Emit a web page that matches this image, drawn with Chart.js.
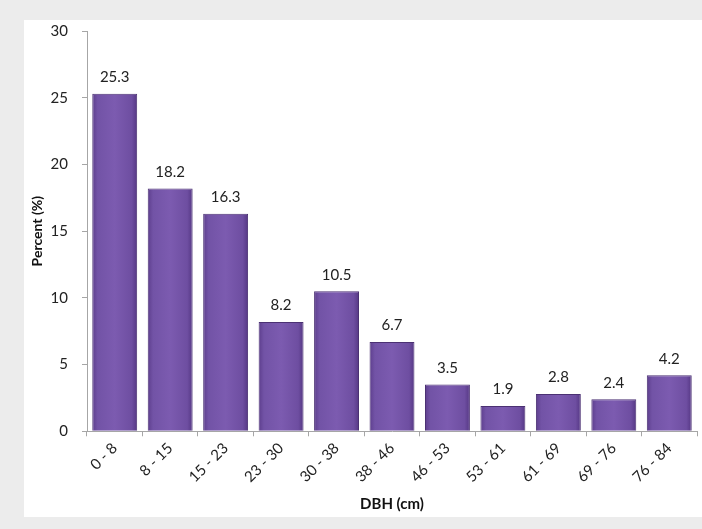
<!DOCTYPE html>
<html>
<head>
<meta charset="utf-8">
<script src="https://cdn.jsdelivr.net/npm/chart.js@4"></script>
<style>
  html, body { margin: 0; padding: 0; background: #ececec; }
  #wrap { width: 702px; height: 529px; }
</style>
</head>
<body>
<div id="wrap"><canvas id="dbh-chart"></canvas></div>
<script>
const dbhClasses = ["0 - 8", "8 - 15", "15 - 23", "23 - 30", "30 - 38", "38 - 46", "46 - 53", "53 - 61", "61 - 69", "69 - 76", "76 - 84"];
const percentValues = [25.3, 18.2, 16.3, 8.2, 10.5, 6.7, 3.5, 1.9, 2.8, 2.4, 4.2];
const yTicks = [0, 5, 10, 15, 20, 25, 30];

const FONT = "Lato, 'Open Sans', sans-serif";
const BAR_PCT = 0.81;

// gray frame with white panel behind the chart
const panelBg = {
  id: "panelBg",
  beforeDraw(chart) {
    const ctx = chart.ctx;
    ctx.save();
    ctx.fillStyle = "#ececec";
    ctx.fillRect(0, 0, chart.width, chart.height);
    ctx.fillStyle = "#ffffff";
    ctx.fillRect(24, 20, chart.width - 24, 497);
    ctx.restore();
  }
};

// value labels over each bar
const valueLabels = {
  id: "valueLabels",
  afterDatasetsDraw(chart) {
    const ctx = chart.ctx;
    const meta = chart.getDatasetMeta(0);
    ctx.save();
    ctx.font = "15px " + FONT;
    ctx.fillStyle = "#222";
    ctx.textAlign = "center";
    ctx.textBaseline = "bottom";
    meta.data.forEach((bar, i) => {
      ctx.fillText(percentValues[i].toFixed(1), bar.x, bar.y - 9);
    });
    ctx.restore();
  }
};

function barFill(context) {
  const chart = context.chart;
  const xs = chart.scales.x;
  if (!chart.chartArea || !xs || context.dataIndex === undefined) return "#6f4f9e";
  const cx = xs.getPixelForValue(context.dataIndex);
  const half = (chart.chartArea.width / dbhClasses.length) * BAR_PCT / 2;
  if (!Number.isFinite(cx) || !Number.isFinite(half)) return "#6f4f9e";
  const g = chart.ctx.createLinearGradient(cx - half, 0, cx + half, 0);
  g.addColorStop(0, "#5d3e8d");
  g.addColorStop(0.12, "#7253a6");
  g.addColorStop(0.5, "#7c5bb0");
  g.addColorStop(0.88, "#6e4ea1");
  g.addColorStop(1, "#553784");
  return g;
}

new Chart(document.getElementById("dbh-chart").getContext("2d"), {
  type: "bar",
  data: {
    labels: dbhClasses,
    datasets: [{
      label: "Percent",
      data: percentValues,
      backgroundColor: barFill,
      borderColor: "#4b3173",
      borderWidth: 1,
      barPercentage: BAR_PCT,
      categoryPercentage: 1.0
    }]
  },
  options: {
    responsive: true,
    maintainAspectRatio: false,
    animation: false,
    layout: { padding: { left: 25, top: 31, right: 5, bottom: 12 } },
    plugins: {
      legend: { display: false },
      tooltip: { enabled: false }
    },
    scales: {
      x: {
        grid: { display: true, drawOnChartArea: false, offset: true, color: "#a6a6a6", tickLength: 5 },
        border: { color: "#a6a6a6" },
        ticks: { color: "#222", font: { family: FONT, size: 15 }, maxRotation: 45, minRotation: 45, padding: 3 },
        title: { display: true, text: "DBH (cm)", color: "#111", font: { family: FONT, size: 15, weight: "bold" }, padding: { top: 6 } }
      },
      y: {
        min: 0,
        max: 30,
        afterBuildTicks(axis) { axis.ticks = yTicks.map(v => ({ value: v })); },
        afterFit(axis) { axis.width = 62; },
        grid: { display: true, drawOnChartArea: false, color: "#a6a6a6", tickLength: 5 },
        border: { color: "#a6a6a6" },
        ticks: { color: "#222", font: { family: FONT, size: 15 }, padding: 14 },
        title: { display: true, text: "Percent (%)", color: "#111", font: { family: FONT, size: 14, weight: "bold" }, padding: { top: 4, bottom: 0 } }
      }
    }
  },
  plugins: [panelBg, valueLabels]
});
</script>
</body>
</html>
